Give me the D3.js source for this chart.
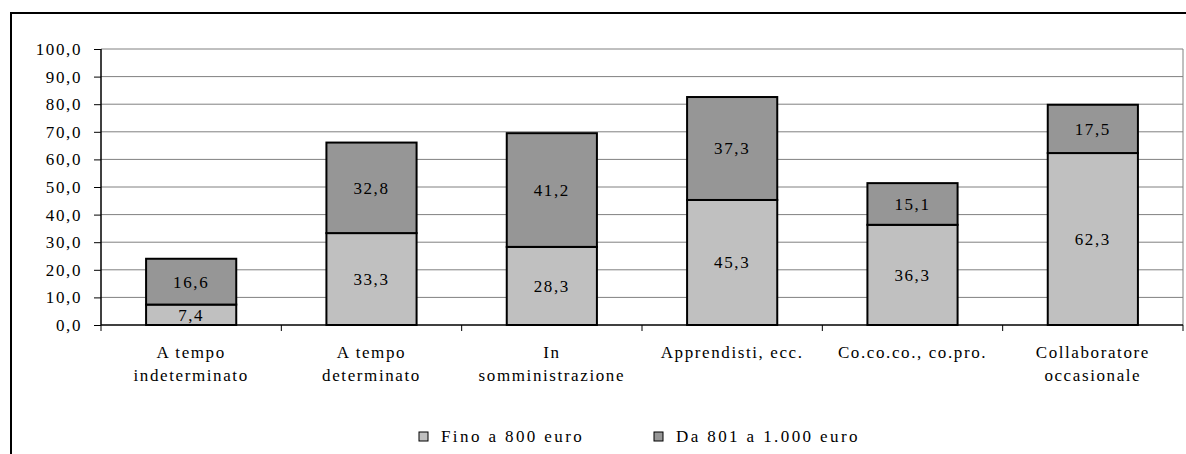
<!DOCTYPE html>
<html><head><meta charset="utf-8">
<script src="https://cdn.jsdelivr.net/npm/d3@7"></script>
<style>body{margin:0;background:#fff;} svg text{font-family:'Liberation Serif','Times New Roman',serif !important;}</style>
</head><body><svg id="c" width="1186" height="454"></svg>
<script>
const categories = [["A tempo","indeterminato"],["A tempo","determinato"],["In","somministrazione"],["Apprendisti, ecc."],["Co.co.co., co.pro."],["Collaboratore","occasionale"]];
const seriesNames = ["Fino a 800 euro","Da 801 a 1.000 euro"];
const fino800 = [7.4,33.3,28.3,45.3,36.3,62.3];
const da801 = [16.6,32.8,41.2,37.3,15.1,17.5];
const yTicks = [0,10,20,30,40,50,60,70,80,90,100];
const colors = ["#c0c0c0","#969696"];

const svg = d3.select("#c");
const fs = 17, ls = 1.6;
// outer frame
svg.append("rect").attr("x",11).attr("y",13).attr("width",1200).attr("height",500).attr("fill","none").attr("stroke","#000").attr("stroke-width",2);

const L=101,R=1183,T=49,B=325;
const x = d3.scaleBand().domain(d3.range(categories.length)).range([L,R]).paddingInner(0).paddingOuter(0);
const y = d3.scaleLinear().domain([0,100]).range([B,T]);

// gridlines
svg.append("g").selectAll("line").data(yTicks.slice(1)).join("line")
 .attr("x1",L).attr("x2",R).attr("y1",d=>y(d)).attr("y2",d=>y(d)).attr("stroke","#808080").attr("stroke-width",1);
svg.append("line").attr("x1",R).attr("x2",R).attr("y1",T).attr("y2",B).attr("stroke","#808080");

// y axis
const ya = svg.append("g").attr("transform",`translate(${L},0)`).call(d3.axisLeft(y).tickValues(yTicks).tickSize(7).tickPadding(12).tickFormat(d=>d3.format(".1f")(d).replace(".",",")));
ya.attr("font-family",null);
ya.select(".domain").attr("stroke","#000").attr("stroke-width",1.5).attr("d",`M0,${T}V${B}`);
ya.selectAll(".tick line").attr("stroke","#000");
ya.selectAll("text").attr("font-size",fs).attr("fill","#000").style("letter-spacing",ls+"px");

// x axis
svg.append("line").attr("x1",L).attr("x2",R).attr("y1",B).attr("y2",B).attr("stroke","#000").attr("stroke-width",1.5);
svg.append("g").selectAll("line").data(d3.range(categories.length+1)).join("line")
 .attr("x1",d=>L+d*x.bandwidth()).attr("x2",d=>L+d*x.bandwidth()).attr("y1",B).attr("y2",B+6).attr("stroke","#000");

const data = categories.map((c,i)=>({i, v:[fino800[i],da801[i]]}));
const bw = x.bandwidth()*0.5;
data.forEach(d=>{
  let cum=0;
  d.v.forEach((v,s)=>{
    const y0=y(cum), y1=y(cum+v);
    const bx = x(d.i)+x.bandwidth()/2-bw/2;
    svg.append("rect").attr("x",bx).attr("y",y1).attr("width",bw).attr("height",y0-y1)
      .attr("fill",colors[s]).attr("stroke","#000").attr("stroke-width",2);
    svg.append("text").attr("x",x(d.i)+x.bandwidth()/2).attr("y",(y0+y1)/2).attr("dy","0.35em")
      .attr("text-anchor","middle").attr("font-size",fs).style("letter-spacing",ls+"px").text(d3.format(".1f")(v).replace(".",","));
    cum+=v;
  });
  const t = svg.append("text").attr("text-anchor","middle").attr("font-size",fs).style("letter-spacing",ls+"px");
  categories[d.i].forEach((line,k)=>{
    t.append("tspan").attr("x",x(d.i)+x.bandwidth()/2).attr("y",358+k*23).text(line);
  });
});

// legend
const leg = [[419,seriesNames[0]],[654,seriesNames[1]]];
leg.forEach((l,s)=>{
  svg.append("rect").attr("x",l[0]).attr("y",432).attr("width",9).attr("height",9).attr("fill",colors[s]).attr("stroke","#000");
  svg.append("text").attr("x",l[0]+22).attr("y",442).attr("font-size",fs).style("letter-spacing",(ls+0.8)+"px").text(l[1]);
});
</script></body></html>
